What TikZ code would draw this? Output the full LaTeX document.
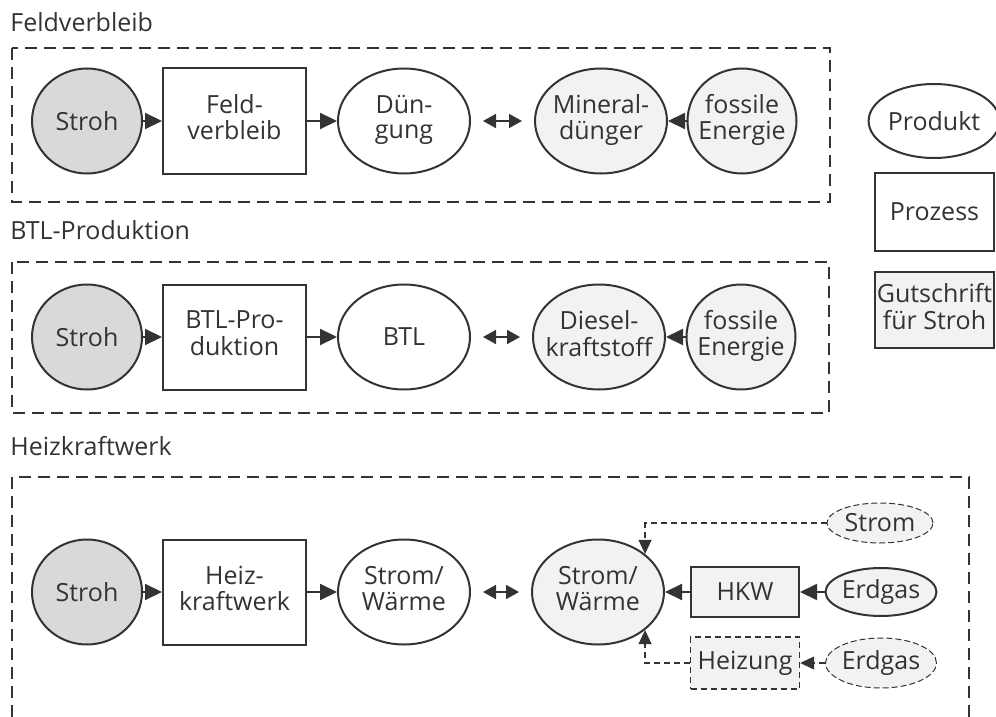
\documentclass[tikz,border=0pt]{standalone}
\usepackage{fontspec}
\setmainfont{Open Sans}
\usetikzlibrary{shapes.geometric, arrows.meta}

\definecolor{linegray}{HTML}{333333}
\definecolor{strohgray}{HTML}{D9D9D9}
\definecolor{creditgray}{HTML}{F2F2F2}

% centred text that does not widen the shape around it
\newcommand{\twoline}[1]{\makebox[0pt]{\begin{tabular}{@{}c@{}}#1\end{tabular}}}

\begin{document}
\fontsize{12.5pt}{12.5pt}\selectfont
\begin{tikzpicture}[x=0.5pt, y=-0.5pt,
    every node/.style={text=linegray, inner sep=0pt},
    frame/.style={draw=linegray, line width=1pt, dash pattern=on 6pt off 3.5pt},
    product/.style={ellipse, draw=linegray, line width=1pt, fill=white,
        minimum width=66pt, minimum height=52.5pt},
    credit/.style={product, fill=creditgray},
    fossil/.style={credit, minimum width=54.5pt},
    stroh/.style={product, fill=strohgray, minimum width=55pt},
    process/.style={rectangle, draw=linegray, line width=1pt, fill=white,
        minimum width=71.5pt, minimum height=52.5pt},
    flow/.style={draw=linegray, line width=1pt, -{Triangle[length=8.5pt, width=8pt]}},
    dblarrow/.style={draw=linegray, line width=1pt,
        {Triangle[length=6.5pt, width=7pt]}-{Triangle[length=6.5pt, width=7pt]}},
    dflow/.style={draw=linegray, line width=0.6pt, dash pattern=on 3pt off 2pt,
        -{Triangle[length=7pt, width=6.5pt]}}]

    \useasboundingbox (0,0) rectangle (996,717);

    % Feldverbleib
    \node[anchor=base west] (title1) at (10,32) {Feldverbleib};
    \draw[frame] (12,48) rectangle (830,202);

    \node[stroh] (stroh1) at (87,121) {Stroh};
    \node[process] (proc1) at (234.5,121) {\twoline{Feld-\\verbleib}};
    \node[product] (prod1) at (404,121) {\twoline{Dün-\\gung}};
    \node[credit] (cred1) at (601,121) {\twoline{Mineral-\\dünger}};
    \node[fossil] (foss1) at (742,121) {\twoline{fossile\\Energie}};

    \draw[flow] (stroh1) -- (proc1);
    \draw[flow] (proc1) -- (prod1);
    \draw[flow] (foss1) -- (cred1);
    \draw[dblarrow] ([xshift=6pt]prod1.east) -- ([xshift=-6pt]cred1.west);

    % BTL-Produktion
    \node[anchor=base west] (title2) at (10,239) {BTL-Produktion};
    \draw[frame] (12,262) rectangle (829,413);

    \node[stroh] (stroh2) at (87,337) {Stroh};
    \node[process] (proc2) at (234.5,337) {\twoline{BTL-Pro-\\duktion}};
    \node[product] (prod2) at (404,337) {BTL};
    \node[credit] (cred2) at (599,337) {\twoline{Diesel-\\kraftstoff}};
    \node[fossil] (foss2) at (741,337) {\twoline{fossile\\Energie}};

    \draw[flow] (stroh2) -- (proc2);
    \draw[flow] (proc2) -- (prod2);
    \draw[flow] (foss2) -- (cred2);
    \draw[dblarrow] ([xshift=6pt]prod2.east) -- ([xshift=-6pt]cred2.west);

    % Heizkraftwerk (frame runs off the bottom)
    \node[anchor=base west] (title3) at (10,455) {Heizkraftwerk};
    \draw[frame] (12,717) -- (12,477) -- (969,477) -- (969,717);

    \node[stroh] (stroh3) at (87,592) {Stroh};
    \node[process] (proc3) at (234.5,592) {\twoline{Heiz-\\kraftwerk}};
    \node[product] (prod3) at (404,592) {\twoline{Strom/\\Wärme}};
    \node[credit] (cred3) at (598,592) {\twoline{Strom/\\Wärme}};

    \node[process, fill=creditgray, minimum width=54pt, minimum height=25pt] (hkw) at (745,592) {HKW};
    \node[credit, minimum width=54.5pt, minimum height=24pt] (gas1) at (881,592) {Erdgas};
    \node[credit, line width=0.5pt, dash pattern=on 3pt off 1.5pt,
        minimum width=53pt, minimum height=20pt] (strom) at (880,523) {Strom};
    \node[process, fill=creditgray, line width=0.7pt, dash pattern=on 3pt off 2pt,
        minimum width=54.5pt, minimum height=26pt] (heiz) at (745,663) {Heizung};
    \node[credit, line width=0.5pt, dash pattern=on 3pt off 1.5pt,
        minimum width=54pt, minimum height=25pt] (gas2) at (881,663) {Erdgas};

    \draw[flow] (stroh3) -- (proc3);
    \draw[flow] (proc3) -- (prod3);
    \draw[dblarrow] ([xshift=6pt]prod3.east) -- ([xshift=-6pt]cred3.west);
    \draw[flow] (gas1) -- (hkw);
    \draw[flow] (hkw) -- (cred3);
    \draw[dflow] (gas2) -- (heiz);
    \draw[dflow] (strom.west) -| (cred3.39);
    \draw[dflow] (heiz.west) -| (cred3.-39);

    % Legend
    \node[product, minimum width=59pt, minimum height=37pt] (legprod) at (934,121) {Produkt};
    \node[process, minimum width=59.5pt, minimum height=39pt] (legproc) at (934.5,212) {Prozess};
    \node[process, fill=creditgray, minimum width=59.5pt, minimum height=38pt] (legcred) at (934.5,310) {\twoline{Gutschrift\\für Stroh}};

\end{tikzpicture}
\end{document}
